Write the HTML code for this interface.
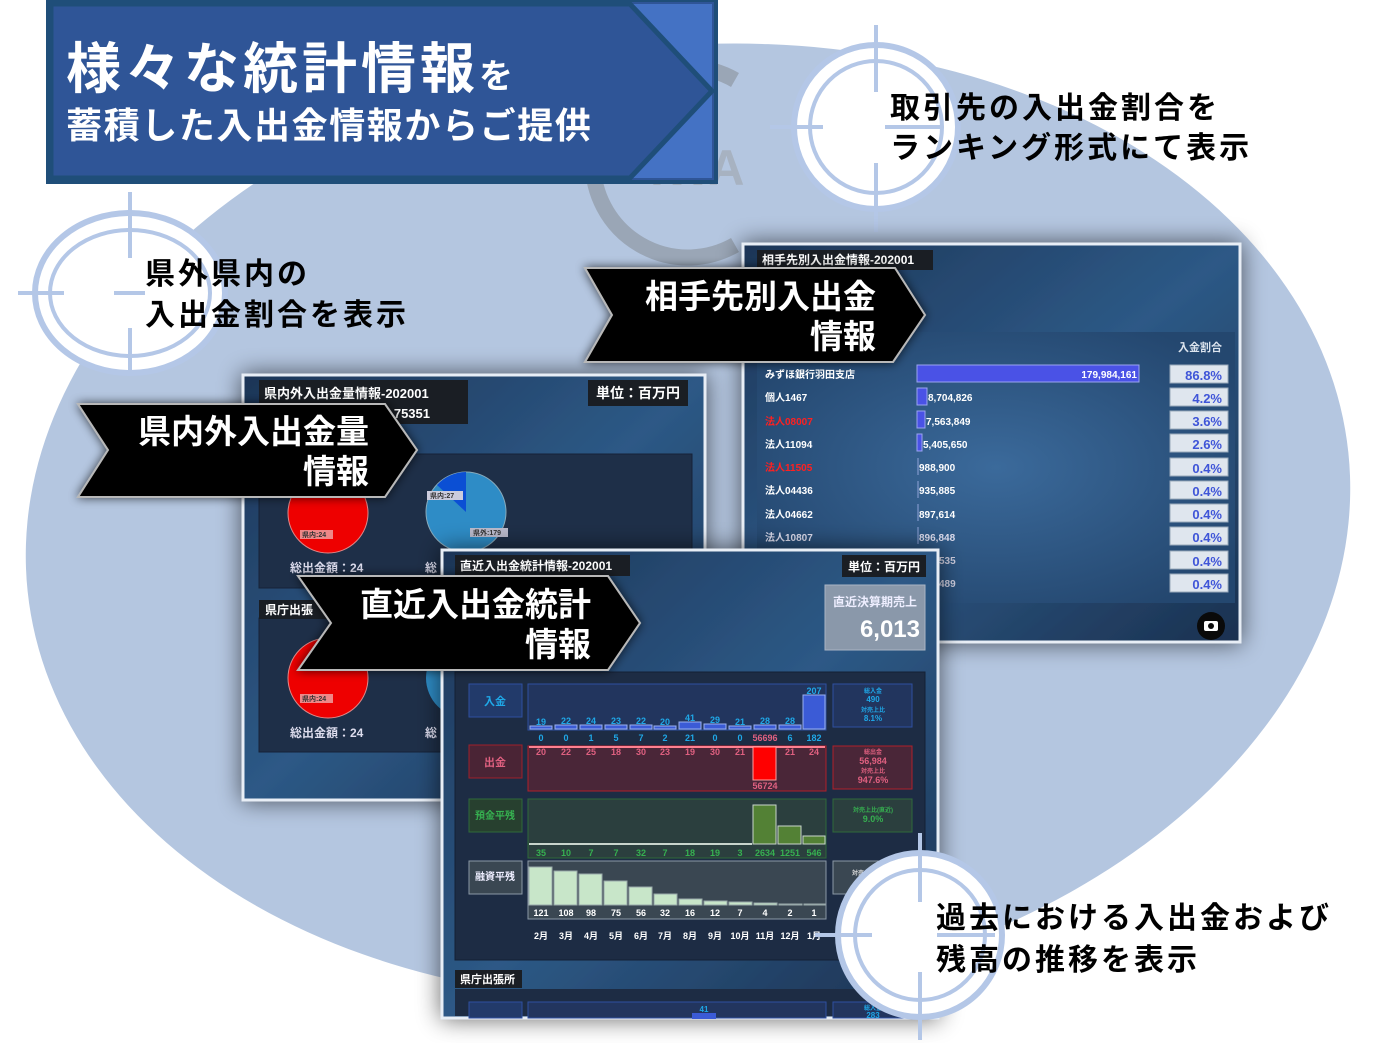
<!DOCTYPE html>
<html><head><meta charset="utf-8"><style>
html,body{margin:0;padding:0;background:#fff;}
svg{display:block}
text{font-family:"Liberation Sans","Noto Sans CJK JP",sans-serif;font-weight:bold}
.j{font-family:"Noto Sans CJK JP","Liberation Sans",sans-serif}
</style></head><body>
<svg width="1397" height="1043" viewBox="0 0 1397 1043" xmlns="http://www.w3.org/2000/svg">
<defs>
<linearGradient id="pg" x1="0" y1="0" x2="1" y2="1"><stop offset="0" stop-color="#1d3557"/><stop offset="0.5" stop-color="#2d5986"/><stop offset="1" stop-color="#1b3150"/></linearGradient>
<radialGradient id="pb" cx="0.5" cy="0.5" r="0.6"><stop offset="0" stop-color="#3b6a9b"/><stop offset="1" stop-color="#24476f"/></radialGradient>
<filter id="sh" x="-20%" y="-20%" width="140%" height="140%"><feGaussianBlur in="SourceAlpha" stdDeviation="12"/><feOffset dx="0" dy="0"/><feComponentTransfer><feFuncA type="linear" slope="0.6"/></feComponentTransfer><feMerge><feMergeNode/><feMergeNode in="SourceGraphic"/></feMerge></filter>
<filter id="sh2" x="-20%" y="-20%" width="140%" height="140%"><feGaussianBlur in="SourceAlpha" stdDeviation="5"/><feComponentTransfer><feFuncA type="linear" slope="0.7"/></feComponentTransfer><feMerge><feMergeNode/><feMergeNode in="SourceGraphic"/></feMerge></filter>
</defs>

<ellipse cx="688" cy="522" rx="664" ry="476" fill="#b4c6e0" transform="rotate(-6 688 522)"/>

<path d="M735 80 A95 95 0 1 0 735 245" fill="none" stroke="#9aa6b6" stroke-width="16"/>
<text x="650" y="185" font-size="50" fill="#a7b2c1" font-weight="normal">IWA</text>

<g>
<ellipse cx="130" cy="293" rx="95" ry="80" fill="#fff" stroke="#b4c7e7" stroke-width="6"/>
<ellipse cx="130" cy="293" rx="80" ry="63" fill="none" stroke="#b4c7e7" stroke-width="4"/>
<g stroke="#b4c7e7" stroke-width="4"><line x1="130" y1="192" x2="130" y2="258"/><line x1="130" y1="328" x2="130" y2="372"/><line x1="18" y1="293" x2="64" y2="293"/><line x1="114" y1="293" x2="145" y2="293"/></g>
</g>
<g>
<circle cx="876" cy="127" r="82" fill="#fff" stroke="#b4c7e7" stroke-width="6"/>
<circle cx="876" cy="127" r="66" fill="none" stroke="#b4c7e7" stroke-width="4"/>
<g stroke="#b4c7e7" stroke-width="4"><line x1="876" y1="25" x2="876" y2="92"/><line x1="876" y1="163" x2="876" y2="232"/><line x1="770" y1="127" x2="823" y2="127"/><line x1="885" y1="127" x2="940" y2="127"/></g>
</g>

<!-- Panel B -->
<g filter="url(#sh)">
<rect x="743" y="244" width="497" height="398" fill="url(#pg)" stroke="#e8eef6" stroke-width="3"/>
</g>
<rect x="757" y="332" width="478" height="271" fill="url(#pb)"/>
<rect x="757" y="250" width="176" height="20" fill="#1a1e24"/>
<text x="762" y="264" font-size="12" fill="#fff">相手先別入出金情報-202001</text>
<text x="1222" y="351" font-size="11" fill="#dce4ee" text-anchor="end" font-weight="normal">入金割合</text>
<g font-size="10">
<rect x="917" y="365" width="222" height="17" fill="#4a52e6" stroke="#9aa4f0"/>
<text x="1137" y="378" fill="#fff" text-anchor="end">179,984,161</text>
<rect x="917" y="388" width="10" height="17" fill="#4a52e6" stroke="#9aa4f0"/>
<rect x="917" y="411" width="8" height="17" fill="#4a52e6" stroke="#9aa4f0"/>
<rect x="917" y="434" width="5" height="17" fill="#4a52e6" stroke="#9aa4f0"/>
<g stroke="#8fa3d8"><line x1="918" y1="458" x2="918" y2="475"/><line x1="918" y1="481" x2="918" y2="498"/><line x1="918" y1="504" x2="918" y2="521"/><line x1="918" y1="527" x2="918" y2="544"/></g>
<text x="765" y="378" fill="#fff">みずほ銀行羽田支店</text>
<text x="765" y="401" fill="#fff">個人1467</text><text x="928" y="401" fill="#fff">8,704,826</text>
<text x="765" y="425" fill="#ff2020">法人08007</text><text x="926" y="425" fill="#fff">7,563,849</text>
<text x="765" y="448" fill="#fff">法人11094</text><text x="923" y="448" fill="#fff">5,405,650</text>
<text x="765" y="471" fill="#ff2020">法人11505</text><text x="919" y="471" fill="#fff">988,900</text>
<text x="765" y="494" fill="#fff">法人04436</text><text x="919" y="494" fill="#fff">935,885</text>
<text x="765" y="518" fill="#fff">法人04662</text><text x="919" y="518" fill="#fff">897,614</text>
<text x="765" y="541" fill="#dde">法人10807</text><text x="919" y="541" fill="#dde">896,848</text>
<text x="939" y="564" fill="#ccd">535</text><text x="939" y="587" fill="#ccd">489</text>
</g>
<g font-size="13" fill="#3f55d8">
<g fill="#dfe6ee" stroke="#9aaabb"><rect x="1170" y="365" width="58" height="18"/><rect x="1170" y="388" width="58" height="18"/><rect x="1170" y="411" width="58" height="18"/><rect x="1170" y="434" width="58" height="18"/><rect x="1170" y="458" width="58" height="18"/><rect x="1170" y="481" width="58" height="18"/><rect x="1170" y="504" width="58" height="18"/><rect x="1170" y="527" width="58" height="18"/><rect x="1170" y="551" width="58" height="18"/><rect x="1170" y="574" width="58" height="18"/></g>
<text x="1222" y="380" text-anchor="end">86.8%</text><text x="1222" y="403" text-anchor="end">4.2%</text><text x="1222" y="426" text-anchor="end">3.6%</text><text x="1222" y="449" text-anchor="end">2.6%</text><text x="1222" y="473" text-anchor="end">0.4%</text><text x="1222" y="496" text-anchor="end">0.4%</text><text x="1222" y="519" text-anchor="end">0.4%</text><text x="1222" y="542" text-anchor="end">0.4%</text><text x="1222" y="566" text-anchor="end">0.4%</text><text x="1222" y="589" text-anchor="end">0.4%</text>
</g>
<circle cx="1211" cy="626" r="14" fill="#0a0a0a"/>
<rect x="1204" y="621" width="14" height="10" rx="2" fill="#fff"/><circle cx="1211" cy="626" r="3" fill="#0a0a0a"/>

<!-- Panel A -->
<g filter="url(#sh)">
<rect x="243" y="375" width="462" height="425" fill="url(#pg)" stroke="#e8eef6" stroke-width="3"/>
</g>
<rect x="259" y="454" width="433" height="134" fill="#1e2f48" stroke="#152238"/>
<rect x="259" y="618" width="190" height="134" fill="#1e2f48" stroke="#152238"/>
<rect x="259" y="380" width="209" height="44" fill="#1a1e24"/>
<text x="264" y="398" font-size="13" fill="#fff">県内外入出金量情報-202001</text>
<text x="430" y="418" font-size="13" fill="#fff" text-anchor="end">75351</text>
<rect x="588" y="380" width="100" height="26" fill="#1a1e24"/>
<text x="638" y="398" font-size="14" fill="#fff" text-anchor="middle">単位：百万円</text>
<circle cx="328" cy="513" r="40" fill="#ee0000" stroke="#d88" stroke-width="1"/>
<rect x="300" y="530" width="33" height="9" fill="#e88"/><text x="302" y="537" font-size="7" fill="#333">県内:24</text>
<circle cx="466" cy="512" r="40" fill="#2e8cc6" stroke="#8ab" stroke-width="1"/>
<path d="M466 512 L466 472 A40 40 0 0 0 437 485 Z" fill="#0b4fd4"/>
<rect x="427" y="491" width="36" height="9" fill="#ccd"/><text x="430" y="498" font-size="7" fill="#333">県内:27</text>
<rect x="470" y="528" width="38" height="9" fill="#bbc"/><text x="473" y="535" font-size="7" fill="#333">県外:179</text>
<text x="290" y="572" font-size="12" fill="#dde" font-weight="normal">総出金額：24</text>
<text x="425" y="572" font-size="12" fill="#dde" font-weight="normal">総</text>
<rect x="259" y="600" width="70" height="19" fill="#1a1e24"/>
<text x="265" y="614" font-size="12" fill="#fff">県庁出張</text>
<circle cx="328" cy="678" r="40" fill="#ee0000" stroke="#d88"/>
<rect x="300" y="694" width="33" height="9" fill="#e88"/><text x="302" y="701" font-size="7" fill="#333">県内:24</text>
<circle cx="466" cy="678" r="40" fill="#2e8cc6"/>
<text x="290" y="737" font-size="12" fill="#dde" font-weight="normal">総出金額：24</text>
<text x="425" y="737" font-size="12" fill="#dde" font-weight="normal">総</text>

<!-- Panel C -->
<g filter="url(#sh)">
<rect x="442" y="550" width="496" height="468" fill="url(#pg)" stroke="#e8eef6" stroke-width="3"/>
</g>
<rect x="455" y="672" width="470" height="288" fill="#1d2c44" stroke="#142035"/>
<rect x="455" y="555" width="175" height="21" fill="#1a1e24"/>
<text x="460" y="570" font-size="12" fill="#fff">直近入出金統計情報-202001</text>
<rect x="842" y="555" width="84" height="22" fill="#1a1e24"/>
<text x="884" y="571" font-size="12" fill="#fff" text-anchor="middle">単位：百万円</text>
<rect x="825" y="585" width="100" height="65" fill="#8a98aa" stroke="#aab5c4"/>
<text x="875" y="606" font-size="12" fill="#eef" text-anchor="middle">直近決算期売上</text>
<text x="920" y="637" font-size="24" fill="#fff" text-anchor="end">6,013</text>
<rect x="469" y="684" width="53" height="33" fill="#223a6a" stroke="#2e4fa0"/><text x="495" y="705" font-size="11" fill="#1fa8e8" text-anchor="middle">入金</text>
<rect x="469" y="745" width="53" height="33" fill="#4a2435" stroke="#a0202a"/><text x="495" y="766" font-size="11" fill="#e06080" text-anchor="middle">出金</text>
<rect x="469" y="799" width="53" height="33" fill="#27402f" stroke="#2f6a3a"/><text x="495" y="819" font-size="10" fill="#36b050" text-anchor="middle">預金平残</text>
<rect x="469" y="861" width="53" height="33" fill="#3a4752" stroke="#8a98a6"/><text x="495" y="880" font-size="10" fill="#eef" text-anchor="middle">融資平残</text>
<rect x="528" y="684" width="298" height="46" fill="#22355e" stroke="#2e4fa0"/>
<rect x="528" y="746" width="298" height="45" fill="#4a2638" stroke="#b0202a"/>
<rect x="528" y="799" width="298" height="59" fill="#2b3f3e" stroke="#2f6a3a"/>
<rect x="528" y="861" width="298" height="58" fill="#3a4752" stroke="#8a98a6"/>
<g fill="#3b5bd6" stroke="#9ab0f0" stroke-width="1">
<rect x="530" y="726" width="22" height="3"/><rect x="555" y="725" width="22" height="4"/><rect x="580" y="725" width="22" height="4"/><rect x="605" y="725" width="22" height="4"/><rect x="630" y="725" width="22" height="4"/><rect x="654" y="726" width="22" height="3"/><rect x="679" y="722" width="22" height="7"/><rect x="704" y="724" width="22" height="5"/><rect x="729" y="726" width="22" height="3"/><rect x="754" y="725" width="22" height="4"/><rect x="779" y="725" width="22" height="4"/><rect x="803" y="695" width="22" height="34"/>
</g>
<g font-size="9" fill="#1fa8e8" text-anchor="middle">
<text x="541" y="725">19</text><text x="566" y="724">22</text><text x="591" y="724">24</text><text x="616" y="724">23</text><text x="641" y="724">22</text><text x="665" y="725">20</text><text x="690" y="721">41</text><text x="715" y="723">29</text><text x="740" y="725">21</text><text x="765" y="724">28</text><text x="790" y="724">28</text><text x="814" y="694">207</text>
<text x="541" y="741">0</text><text x="566" y="741">0</text><text x="591" y="741">1</text><text x="616" y="741">5</text><text x="641" y="741">7</text><text x="665" y="741">2</text><text x="690" y="741">21</text><text x="715" y="741">0</text><text x="740" y="741">0</text><text x="765" y="741" fill="#e06080">56696</text><text x="790" y="741">6</text><text x="814" y="741">182</text>
</g>
<line x1="529" y1="747" x2="825" y2="747" stroke="#ff8090" stroke-width="2"/>
<rect x="753" y="747" width="23" height="33" fill="#ff0000" stroke="#ffa0a0"/>
<g font-size="9" fill="#e06080" text-anchor="middle">
<text x="541" y="755">20</text><text x="566" y="755">22</text><text x="591" y="755">25</text><text x="616" y="755">18</text><text x="641" y="755">30</text><text x="665" y="755">23</text><text x="690" y="755">19</text><text x="715" y="755">30</text><text x="740" y="755">21</text><text x="790" y="755">21</text><text x="814" y="755">24</text><text x="765" y="789">56724</text>
</g>
<line x1="529" y1="844" x2="752" y2="844" stroke="#c8d4cc" stroke-width="2"/>
<rect x="753" y="805" width="23" height="39" fill="#538135" stroke="#c8d4cc"/>
<rect x="778" y="826" width="23" height="18" fill="#538135" stroke="#c8d4cc"/>
<rect x="803" y="836" width="22" height="8" fill="#538135" stroke="#c8d4cc"/>
<g font-size="9" fill="#36b050" text-anchor="middle">
<text x="541" y="856">35</text><text x="566" y="856">10</text><text x="591" y="856">7</text><text x="616" y="856">7</text><text x="641" y="856">32</text><text x="665" y="856">7</text><text x="690" y="856">18</text><text x="715" y="856">19</text><text x="740" y="856">3</text><text x="765" y="856">2634</text><text x="790" y="856">1251</text><text x="814" y="856">546</text>
</g>
<g fill="#c8e6c9" stroke="#9aa">
<rect x="529" y="867" width="23" height="38"/><rect x="554" y="871" width="23" height="34"/><rect x="579" y="874" width="23" height="31"/><rect x="604" y="881" width="23" height="24"/><rect x="629" y="887" width="23" height="18"/><rect x="654" y="894" width="23" height="11"/><rect x="679" y="899" width="23" height="6"/><rect x="704" y="901" width="23" height="4"/><rect x="729" y="902" width="23" height="3"/><rect x="754" y="903" width="23" height="2"/><rect x="779" y="904" width="23" height="1"/><rect x="804" y="904" width="21" height="1"/>
</g>
<g font-size="9" fill="#fff" text-anchor="middle">
<text x="541" y="916">121</text><text x="566" y="916">108</text><text x="591" y="916">98</text><text x="616" y="916">75</text><text x="641" y="916">56</text><text x="665" y="916">32</text><text x="690" y="916">16</text><text x="715" y="916">12</text><text x="740" y="916">7</text><text x="765" y="916">4</text><text x="790" y="916">2</text><text x="814" y="916">1</text>
<text x="541" y="939">2月</text><text x="566" y="939">3月</text><text x="591" y="939">4月</text><text x="616" y="939">5月</text><text x="641" y="939">6月</text><text x="665" y="939">7月</text><text x="690" y="939">8月</text><text x="715" y="939">9月</text><text x="740" y="939">10月</text><text x="765" y="939">11月</text><text x="790" y="939">12月</text><text x="814" y="939">1月</text>
</g>
<rect x="833" y="684" width="79" height="43" fill="#22355e" stroke="#2e4fa0"/>
<g font-size="8" fill="#1fa8e8" text-anchor="middle"><text x="873" y="693" font-size="6">総入金</text><text x="873" y="702">490</text><text x="873" y="712" font-size="6">対売上比</text><text x="873" y="721">8.1%</text></g>
<rect x="833" y="746" width="79" height="43" fill="#4a2638" stroke="#b0202a"/>
<g font-size="9" fill="#e06080" text-anchor="middle"><text x="873" y="754" font-size="6">総出金</text><text x="873" y="764">56,984</text><text x="873" y="773" font-size="6">対売上比</text><text x="873" y="783">947.6%</text></g>
<rect x="833" y="799" width="79" height="33" fill="#2b3f3e" stroke="#2f6a3a"/>
<g font-size="9" fill="#36b050" text-anchor="middle"><text x="873" y="812" font-size="6">対売上比(直近)</text><text x="873" y="822">9.0%</text></g>
<rect x="833" y="861" width="79" height="33" fill="#3a4752" stroke="#8a98a6"/>
<text x="852" y="875" font-size="6" fill="#ddd">対売上比</text>
<rect x="455" y="970" width="67" height="18" fill="#1a1e24"/>
<text x="460" y="983" font-size="11" fill="#fff">県庁出張所</text>
<rect x="455" y="989" width="470" height="27" fill="#1d2c44"/>
<rect x="469" y="1002" width="53" height="16" fill="#223a6a" stroke="#2e4fa0"/>
<rect x="528" y="1002" width="298" height="16" fill="#22355e" stroke="#2e4fa0"/>
<rect x="692" y="1013" width="24" height="6" fill="#3b5bd6"/>
<text x="704" y="1012" font-size="8" fill="#1fa8e8" text-anchor="middle">41</text>
<rect x="833" y="1002" width="79" height="16" fill="#22355e" stroke="#2e4fa0"/>
<text x="873" y="1010" font-size="6" fill="#1fa8e8" text-anchor="middle">総入金</text>
<text x="873" y="1018" font-size="8" fill="#1fa8e8" text-anchor="middle">283</text>

<!-- black arrow labels -->
<g filter="url(#sh2)">
<path d="M585 268 L895 268 L925 315 L893 362 L585 362 L612 315 Z" fill="#000" stroke="#b8b8b8" stroke-width="2"/>
<path d="M78 404 L385 404 L417 450 L385 497 L78 497 L108 450 Z" fill="#000" stroke="#b8b8b8" stroke-width="2"/>
<path d="M298 576 L608 576 L640 623 L608 670 L298 670 L331 623 Z" fill="#000" stroke="#b8b8b8" stroke-width="2"/>
</g>
<g class="j" font-size="33" fill="#fff" text-anchor="end">
<text x="876" y="308">相手先別入出金</text><text x="876" y="348">情報</text>
<text x="369" y="443">県内外入出金量</text><text x="369" y="483">情報</text>
<text x="591" y="616">直近入出金統計</text><text x="591" y="656">情報</text>
</g>

<g>
<circle cx="920" cy="935" r="82" fill="#fff" stroke="#b4c7e7" stroke-width="6"/>
<circle cx="920" cy="935" r="65" fill="none" stroke="#b4c7e7" stroke-width="4"/>
<g stroke="#b4c7e7" stroke-width="4"><line x1="920" y1="833" x2="920" y2="902"/><line x1="920" y1="972" x2="920" y2="1040"/><line x1="815" y1="935" x2="872" y2="935"/><line x1="937" y1="935" x2="995" y2="935"/></g>
</g>

<g class="j" font-size="30" fill="#000" font-weight="bold" letter-spacing="3">
<text x="145" y="284">県外県内の</text><text x="145" y="325">入出金割合を表示</text>
<text x="890" y="118">取引先の入出金割合を</text><text x="890" y="158">ランキング形式にて表示</text>
<text x="936" y="928">過去における入出金および</text><text x="936" y="970">残高の推移を表示</text>
</g>

<!-- title banner -->
<rect x="48" y="0" width="668" height="182" fill="#2f5597"/>
<path d="M630 4 L712 4 L712 178 L630 178 L712 91 Z" fill="#4472c4"/>
<path d="M51 4 L630 4 L712 91 L630 178 L51 178 Z" fill="none" stroke="#1f4e79" stroke-width="5"/>
<rect x="48" y="0" width="668" height="182" fill="none" stroke="#1f4e79" stroke-width="4"/>
<g class="j" fill="#fff">
<text x="66" y="88" font-size="55" letter-spacing="4">様々な統計情報<tspan font-size="34" letter-spacing="0">を</tspan></text>
<text x="66" y="138" font-size="36" letter-spacing="1.6">蓄積した入出金情報からご提供</text>
</g>
</svg>
</body></html>
